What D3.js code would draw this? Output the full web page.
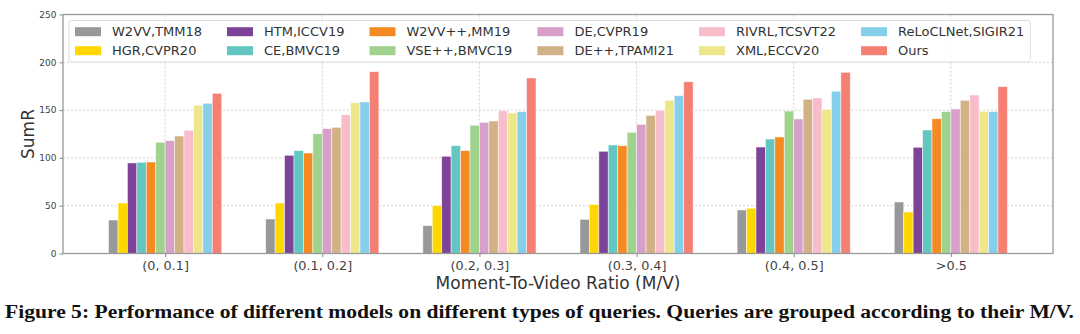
<!DOCTYPE html>
<html>
<head>
<meta charset="utf-8">
<script src="https://cdn.jsdelivr.net/npm/d3@7"></script>
<style>
  body { margin: 0; background: #fff; }
  svg { display: block; }
  .sans { font-family: "DejaVu Sans", sans-serif; }
  .caption { font-family: "Liberation Serif", serif; font-weight: bold; }
</style>
</head>
<body>
<div id="chart"></div>
<script>
// chart data
var groups = ["(0, 0.1]", "(0.1, 0.2]", "(0.2, 0.3]", "(0.3, 0.4]", "(0.4, 0.5]", ">0.5"];
var models = ["W2VV,TMM18", "HGR,CVPR20", "HTM,ICCV19", "CE,BMVC19", "W2VV++,MM19", "VSE++,BMVC19",
              "DE,CVPR19", "DE++,TPAMI21", "RIVRL,TCSVT22", "XML,ECCV20", "ReLoCLNet,SIGIR21", "Ours"];
var colors = ["#98989b", "#ffd700", "#7d4399", "#63c6c1", "#f58a23", "#9fd28c",
              "#d6a0ca", "#d2b187", "#f8bdca", "#eee68a", "#86cfea", "#f57f73"];
var w2vv     = [35.0, 36.1, 29.1, 35.7, 45.5, 53.9];
var hgr      = [52.8, 52.8, 50.0, 51.4, 47.3, 43.4];
var htm      = [94.7, 102.7, 101.7, 106.9, 111.4, 111.1];
var ce       = [95.4, 107.6, 112.8, 113.5, 119.8, 129.2];
var w2vvpp   = [95.7, 105.1, 107.6, 112.8, 121.9, 141.0];
var vsepp    = [116.3, 125.3, 134.1, 126.7, 149.0, 148.4];
var de       = [118.0, 130.6, 137.2, 135.1, 140.7, 151.2];
var depp     = [122.9, 132.0, 138.6, 144.5, 161.3, 160.2];
var rivrl    = [128.9, 145.2, 149.4, 149.8, 162.7, 165.8];
var xml      = [155.0, 157.7, 147.0, 160.2, 150.8, 148.7];
var reloclnet = [157.1, 158.5, 148.4, 165.1, 169.7, 148.4];
var ours     = [167.5, 190.2, 183.6, 179.7, 189.5, 174.5];
var series = [w2vv, hgr, htm, ce, w2vvpp, vsepp, de, depp, rivrl, xml, reloclnet, ours];
var yTicks = [0, 50, 100, 150, 200, 250];

var W = 1080, H = 334;
var margin = {left: 63, right: 27, top: 14.5, bottom: 80.5};
var plotW = W - margin.left - margin.right;
var plotH = H - margin.top - margin.bottom;
var barW = 0.06;

var svg = d3.select("#chart").append("svg")
  .attr("width", W)
  .attr("height", H);

var g = svg.append("g")
  .attr("class", "sans")
  .attr("transform", "translate(" + margin.left + "," + margin.top + ")");

var x = d3.scaleLinear().domain([-0.65, groups.length - 1 + 0.65]).range([0, plotW]);
var y = d3.scaleLinear().domain([0, 250]).range([plotH, 0]);

// grid
g.append("g").selectAll("line.gy")
  .data(yTicks.slice(1, -1))
  .enter().append("line")
  .attr("x1", 0).attr("x2", plotW)
  .attr("y1", function(d) { return y(d); })
  .attr("y2", function(d) { return y(d); })
  .attr("stroke", "#c8c8c8").attr("stroke-width", 0.8)
  .attr("stroke-dasharray", "2,2");

g.append("g").selectAll("line.gx")
  .data(groups)
  .enter().append("line")
  .attr("x1", function(d, i) { return x(i); })
  .attr("x2", function(d, i) { return x(i); })
  .attr("y1", 0).attr("y2", plotH)
  .attr("stroke", "#c8c8c8").attr("stroke-width", 0.8)
  .attr("stroke-dasharray", "2,2");

// bars
series.forEach(function(vals, k) {
  g.append("g").selectAll("rect")
    .data(vals)
    .enter().append("rect")
    .attr("x", function(d, i) { return x(i + (k - 6) * barW); })
    .attr("width", x(barW) - x(0))
    .attr("y", function(d) { return y(d); })
    .attr("height", function(d) { return y(0) - y(d); })
    .attr("fill", colors[k])
    .attr("stroke", "#fff")
    .attr("stroke-opacity", 0.6)
    .attr("stroke-width", 0.8);
});

// axes
var yAxis = g.append("g")
  .call(d3.axisLeft(y).tickValues(yTicks).tickSize(3.5).tickPadding(3));
var xAxis = g.append("g")
  .attr("transform", "translate(0," + plotH + ")")
  .call(d3.axisBottom(x).tickValues(d3.range(groups.length))
    .tickFormat(function(i) { return groups[i]; }).tickSize(3.5).tickPadding(4));

yAxis.select(".domain").remove();
xAxis.select(".domain").remove();
yAxis.attr("font-family", null);
xAxis.attr("font-family", null);
yAxis.selectAll(".tick line").attr("stroke", "#888");
xAxis.selectAll(".tick line").attr("stroke", "#888");
yAxis.selectAll(".tick text").attr("font-size", 9).attr("fill", "#444");
xAxis.selectAll(".tick text").attr("font-size", 12.8).attr("fill", "#444");

// frame
g.append("rect")
  .attr("width", plotW).attr("height", plotH)
  .attr("fill", "none").attr("stroke", "#999").attr("stroke-width", 1.3);

// axis titles
svg.append("text")
  .attr("class", "sans")
  .attr("transform", "translate(34," + (margin.top + plotH / 2) + ") rotate(-90)")
  .attr("text-anchor", "middle")
  .attr("font-size", 17).attr("fill", "#333")
  .text("SumR");

svg.append("text")
  .attr("class", "sans")
  .attr("x", margin.left + plotW / 2).attr("y", 289)
  .attr("text-anchor", "middle")
  .attr("font-size", 17).attr("fill", "#333")
  .text("Moment-To-Video Ratio (M/V)");

// legend
var legend = svg.append("g").attr("class", "sans");
var legBox = legend.append("rect")
  .attr("x", 69).attr("y", 20.5).attr("rx", 2.5).attr("ry", 2.5)
  .attr("height", 41.5)
  .attr("fill", "#fff").attr("fill-opacity", 0.9)
  .attr("stroke", "#ddd").attr("stroke-width", 1);

var nCols = 6;
var colX = 75;
for (var c = 0; c < nCols; c++) {
  var maxW = 0;
  for (var r = 0; r < 2; r++) {
    var idx = c * 2 + r;
    var rowY = r === 0 ? 31.7 : 50.7;
    legend.append("rect")
      .attr("x", colX).attr("y", rowY - 4.5)
      .attr("width", 26).attr("height", 9)
      .attr("fill", colors[idx]);
    var t = legend.append("text")
      .attr("x", colX + 37).attr("y", rowY + 4.6)
      .attr("font-size", 13).attr("fill", "#333")
      .text(models[idx]);
    maxW = Math.max(maxW, t.node().getComputedTextLength());
  }
  if (c === nCols - 1) legBox.attr("width", colX + 37 + maxW + 6 - 69);
  colX = colX + 37 + maxW + 25;
}

// caption
svg.append("text")
  .attr("class", "caption")
  .attr("x", 5).attr("y", 318)
  .attr("font-size", 18).attr("fill", "#111")
  .attr("textLength", 1069).attr("lengthAdjust", "spacingAndGlyphs")
  .text("Figure 5: Performance of different models on different types of queries. Queries are grouped according to their M/V.");
</script>
</body>
</html>
